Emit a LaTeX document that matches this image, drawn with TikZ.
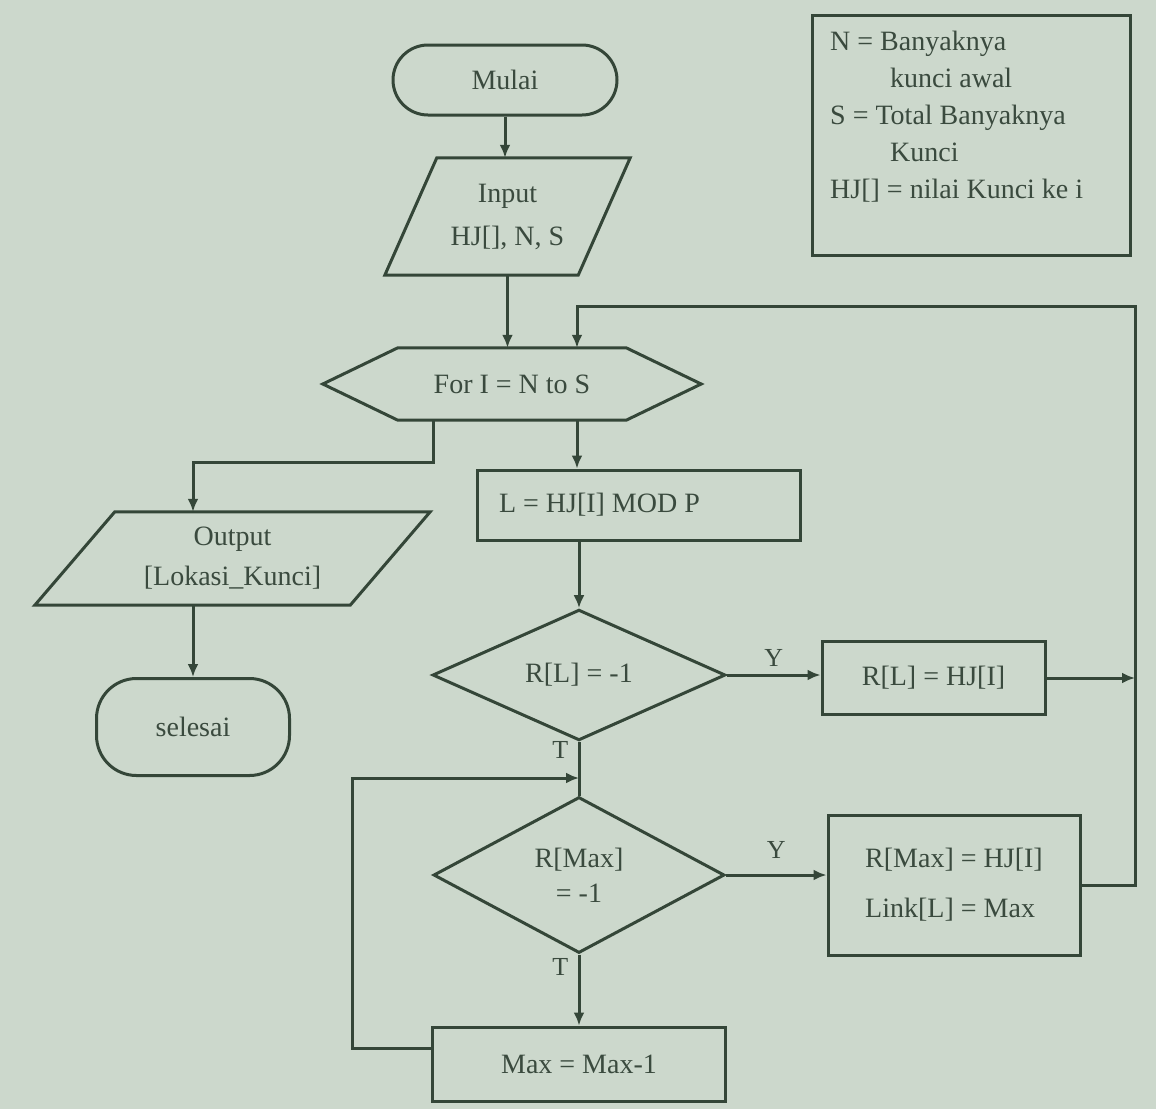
\documentclass[tikz,border=0pt]{standalone}
\usepackage{fontspec}
\setmainfont{Liberation Serif}
\usetikzlibrary{shapes.geometric,arrows.meta,calc}
\definecolor{paper}{RGB}{204,216,204}
\definecolor{ink}{RGB}{52,70,56}
\definecolor{txt}{RGB}{58,74,62}

\begin{document}
\begin{tikzpicture}[x=1pt,y=-1pt,
  every node/.style={font=\fontsize{28}{34}\selectfont, text=txt},
  outline/.style={draw=ink, line width=3pt},
  procbox/.style={outline, rectangle, inner sep=0pt},
  term/.style={outline, rectangle, inner sep=0pt},
  holder/.style={rectangle, inner sep=0pt, align=center},
  decision/.style={outline, diamond, inner sep=0pt, align=center},
  link/.style={draw=ink, line width=3pt},
  arr/.style={link, -{Latex[length=13pt,width=11pt]}},
  tag/.style={font=\fontsize{26}{30}\selectfont}
]
\useasboundingbox (0,0) rectangle (1156,1109);
\fill[paper] (0,0) rectangle (1156,1109);

% terminals
\node[term, rounded corners=35pt, minimum width=224pt, minimum height=70pt] (start) at (505,80) {Mulai};
\node[term, rounded corners=40pt, minimum width=193pt, minimum height=97pt] (stop) at (193,727) {selesai};

% input / output parallelograms
\node[holder, minimum width=245pt, minimum height=117pt, font=\fontsize{28}{43}\selectfont] (inp) at (507.5,216.5)
  {Input\\HJ[], N, S};
\draw[outline] (inp.south west) -- ([xshift=52pt]inp.north west) -- (inp.north east)
  -- ([xshift=-52pt]inp.south east) -- cycle;

\node[holder, minimum width=395pt, minimum height=93pt, font=\fontsize{28}{40}\selectfont] (out) at (232.5,558.5)
  {Output\\{[}Lokasi\_Kunci{]}};
\draw[outline] (out.south west) -- ([xshift=80pt]out.north west) -- (out.north east)
  -- ([xshift=-80pt]out.south east) -- cycle;

% loop header (hexagon)
\node[holder, minimum width=378pt, minimum height=72pt] (hx) at (512,384) {For I = N to S};
\draw[outline] (hx.west) -- ([xshift=75pt]hx.north west) -- ([xshift=-75pt]hx.north east)
  -- (hx.east) -- ([xshift=-75pt]hx.south east) -- ([xshift=75pt]hx.south west) -- cycle;

% process boxes
\node[procbox, minimum width=323pt, minimum height=70pt, text width=279pt, align=flush left, inner xsep=22pt]
  (lbox) at (638.5,505) {L = HJ[I] MOD P};
\node[procbox, minimum width=223pt, minimum height=73pt] (b1) at (933.5,678) {R[L] = HJ[I]};
\node[procbox, minimum width=252pt, minimum height=140pt, align=left, font=\fontsize{28}{50}\selectfont] (b2) at (954,885)
  {R[Max] = HJ[I]\\Link[L] = Max};
\node[procbox, minimum width=293pt, minimum height=74pt] (mx) at (579,1064) {Max = Max-1};

% decisions
\node[decision, minimum width=293pt, minimum height=120pt] (d1) at (579,675) {R[L] = -1};
\node[decision, minimum width=291pt, minimum height=156pt, font=\fontsize{28}{35}\selectfont] (d2) at (579,875)
  {R[Max]\\= -1};

% legend
\node[outline, rectangle, minimum width=318pt, minimum height=240pt] (leg) at (971,135) {};
\node[anchor=north west, inner sep=0pt, align=left, font=\fontsize{28}{37}\selectfont] (legtext) at (830,31)
  {N = Banyaknya\\
   \hspace*{60pt}kunci awal\\
   S = Total Banyaknya\\
   \hspace*{60pt}Kunci\\
   HJ[] = nilai Kunci ke i};

% helper points for routed connectors
\coordinate (back) at (577,306);
\coordinate (rtop) at (1135,306);
\coordinate (lsplit) at (433,462);
\coordinate (lp) at (352,778);

% connectors
\draw[arr] (start.south) -- (start.south |- inp.north);
\draw[arr] (inp.south) -- (inp.south |- hx.north);
\draw[arr] (hx.south -| lsplit) -- (lsplit) -- (lsplit -| stop) -- (stop |- out.north);
\draw[arr] (stop |- out.south) -- (stop.north);
\draw[arr] (hx.south -| back) -- (lbox.north -| back);
\draw[arr] (lbox.south -| d1.north) -- (d1.north);
\draw[arr] (d1.east) -- (d1.east -| b1.west) node[tag, midway, above=4pt] {Y};
\draw[arr] (b1.east) -- (b1.east -| rtop);
\draw[link] (d1.south) -- (d2.north) node[tag, pos=0.15, left=6pt] {T};
\draw[arr] (d2.east) -- (d2.east -| b2.west) node[tag, midway, above=12pt] {Y};
\draw[arr] (d2.south) -- (mx.north) node[tag, pos=0.18, left=6pt] {T};
\draw[arr] ([yshift=16pt]mx.west) -| (lp) -- (lp -| d1.south);
\draw[arr] (b2.east) -| (rtop) -- (back) -- (back |- hx.north);
\end{tikzpicture}
\end{document}
